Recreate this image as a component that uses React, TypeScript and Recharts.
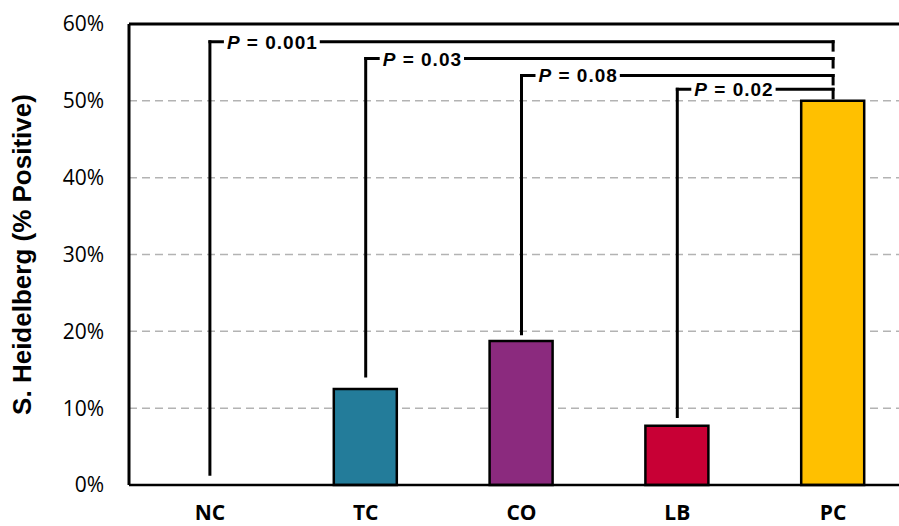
import React from "react";
import {
  BarChart,
  Bar,
  XAxis,
  YAxis,
  CartesianGrid,
  ReferenceLine,
  ReferenceDot,
  Cell,
} from "recharts";

const categories = ["NC", "TC", "CO", "LB", "PC"];
const positiveRates = [0, 0.125, 0.1875, 0.077, 0.5];
const barColors = ["#FFFFFF", "#237C9A", "#8B2A7E", "#C80035", "#FFC000"];
const yTicks = [0, 0.1, 0.2, 0.3, 0.4, 0.5, 0.6];

// each group compared against PC
const compareGroups = ["NC", "TC", "CO", "LB"];
const pValues = ["0.001", "0.03", "0.08", "0.02"];
const bracketLevels = [0.577, 0.555, 0.533, 0.515];
const bracketStarts = [0.014, 0.142, 0.197, 0.089];

const data = categories.map((name, i) => ({ name, rate: positiveRates[i] }));

// rough Arial bold advance widths, for the white box behind the p-value
const charW: Record<string, number> = { P: 0.667, " ": 0.278, "=": 0.584, ".": 0.278 };
const textWidth = (s: string, size: number, spacing: number) =>
  s.split("").reduce((w, c) => w + (charW[c] ?? 0.556) * size, 0) + (s.length - 1) * spacing;

const PLabel = (value: string) => (props: any) => {
  const { cx, cy } = props;
  const full = `P = ${value}`;
  const w = textWidth(full, 19, 1);
  return (
    <g>
      <rect x={cx + 14} y={cy - 10} width={w + 6} height={20} fill="#fff" />
      <text
        x={cx + 17}
        y={cy + 7}
        fontFamily="'Liberation Sans', Arial, sans-serif"
        fontWeight="bold"
        fontSize={19}
        letterSpacing={1}
        fill="#000"
      >
        <tspan fontStyle="italic">P</tspan> = {value}
      </text>
    </g>
  );
};

const YLabel = (props: any) => {
  const { viewBox } = props;
  const x = viewBox.x + 22;
  const y = viewBox.y + viewBox.height / 2;
  return (
    <text
      x={x}
      y={y}
      transform={`rotate(-90, ${x}, ${y})`}
      textAnchor="middle"
      dominantBaseline="central"
      fontFamily="'Liberation Sans', Arial, sans-serif"
      fontWeight="bold"
      fontSize={26}
      fill="#000"
    >
      S. Heidelberg (% Positive)
    </text>
  );
};

export default function App() {
  const pc = categories[categories.length - 1];
  const pcValue = positiveRates[positiveRates.length - 1];
  const line = { stroke: "#000", strokeWidth: 3, strokeLinecap: "square" as const };

  return (
    <div
      style={{
        position: "absolute",
        left: 0,
        top: 0,
        width: 899,
        height: 526,
        overflow: "hidden",
        background: "#fff",
      }}
    >
      <BarChart
        width={911}
        height={526}
        data={data}
        margin={{ top: 24, right: 0, left: 0, bottom: 0 }}
      >
        <CartesianGrid
          vertical={false}
          stroke="#b3b3b3"
          strokeWidth={1.5}
          strokeDasharray="8 5"
        />
        <XAxis
          dataKey="name"
          height={41}
          padding={{ left: 3, right: 0 }}
          tickLine={false}
          tickSize={0}
          tickMargin={20}
          axisLine={{ stroke: "#000", strokeWidth: 2.5 }}
          tick={{
            fill: "#000",
            fontSize: 21,
            fontWeight: "bold",
            fontFamily: "'Open Sans', sans-serif",
          }}
        />
        <YAxis
          width={129}
          domain={[0, 0.6]}
          ticks={yTicks}
          tickFormatter={(v: number) => `${Math.round(v * 100)}%`}
          tickLine={false}
          tickSize={0}
          tickMargin={25}
          axisLine={{ stroke: "#000", strokeWidth: 3 }}
          tick={{ fill: "#000", fontSize: 21, fontFamily: "'Open Sans', sans-serif" }}
          label={{ content: YLabel }}
        />
        <ReferenceLine y={0.6} stroke="#000" strokeWidth={3} />
        <Bar dataKey="rate" barSize={63} stroke="#000" strokeWidth={2.5} isAnimationActive={false}>
          {data.map((_, i) => (
            <Cell key={i} fill={barColors[i]} />
          ))}
        </Bar>
        {compareGroups.map((g, i) => (
          <ReferenceLine
            key={`v${g}`}
            segment={[
              { x: g, y: bracketStarts[i] },
              { x: g, y: bracketLevels[i] },
            ]}
            {...line}
          />
        ))}
        {compareGroups.map((g, i) => (
          <ReferenceLine
            key={`h${g}`}
            segment={[
              { x: g, y: bracketLevels[i] },
              { x: pc, y: bracketLevels[i] },
            ]}
            {...line}
          />
        ))}
        {compareGroups.map((g, i) => (
          <ReferenceLine
            key={`d${g}`}
            segment={[
              { x: pc, y: bracketLevels[i] },
              { x: pc, y: Math.max(bracketLevels[i] - 0.011, pcValue) },
            ]}
            {...line}
          />
        ))}
        {compareGroups.map((g, i) => (
          <ReferenceDot
            key={`p${g}`}
            x={g}
            y={bracketLevels[i]}
            r={0}
            shape={PLabel(pValues[i])}
          />
        ))}
      </BarChart>
    </div>
  );
}
